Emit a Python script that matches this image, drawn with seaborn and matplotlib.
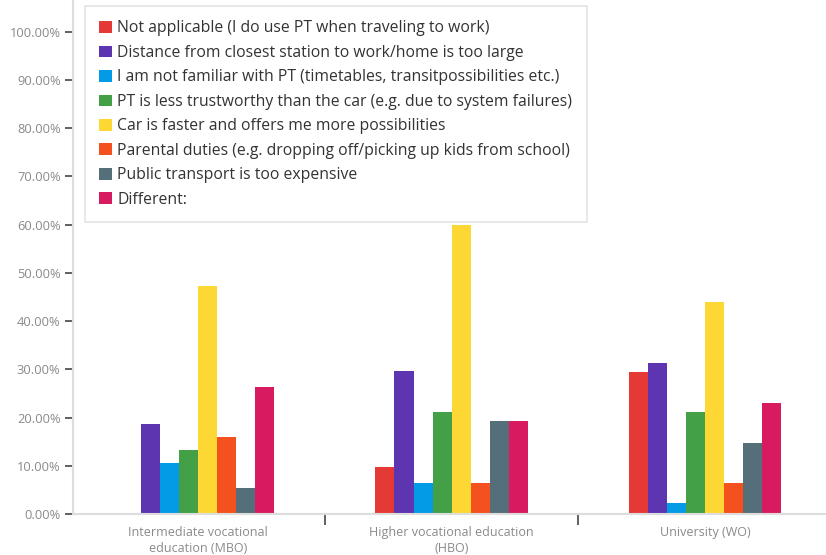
import matplotlib
matplotlib.use("Agg")
import matplotlib.pyplot as plt
import seaborn as sns
import pandas as pd
from matplotlib.ticker import FixedLocator, FuncFormatter

# Education levels (x categories)
levels = [
    "Intermediate vocational\neducation (MBO)",
    "Higher vocational education\n(HBO)",
    "University (WO)",
]

# Reasons for not using public transport (hue series)
reasons = [
    "Not applicable (I do use PT when traveling to work)",
    "Distance from closest station to work/home is too large",
    "I am not familiar with PT (timetables, transitpossibilities etc.)",
    "PT is less trustworthy than the car (e.g. due to system failures)",
    "Car is faster and offers me more possibilities",
    "Parental duties (e.g. dropping off/picking up kids from school)",
    "Public transport is too expensive",
    "Different:",
]

# Share of respondents (%) per reason, one list per education level
mbo = [0.0, 18.67, 10.67, 13.33, 47.3, 16.0, 5.33, 26.4]
hbo = [9.7, 29.6, 6.45, 21.1, 60.0, 6.45, 19.3, 19.3]
wo = [29.4, 31.4, 2.2, 21.1, 44.0, 6.4, 14.7, 23.0]

colors = ["#E53935", "#5E35B1", "#039BE5", "#43A047",
          "#FDD835", "#F4511E", "#546E7A", "#D81B60"]

rows = []
for level, vals in zip(levels, [mbo, hbo, wo]):
    for reason, v in zip(reasons, vals):
        rows.append({"level": level, "reason": reason, "share": v})
df = pd.DataFrame(rows)

sns.set_theme(style="white")
plt.rcParams["font.family"] = ["Open Sans", "DejaVu Sans"]

fig = plt.figure(figsize=(8.26, 5.55), dpi=100)
ax = fig.add_axes([0.0884, 0.0739, 0.9116, 0.9261])

sns.barplot(data=df, x="level", y="share", hue="reason",
            order=levels, hue_order=reasons, palette=colors,
            width=0.6, dodge=True, linewidth=0, saturation=1, ax=ax,
            errorbar=None)

ax.set_xlim(-0.493, 2.477)
ax.set_ylim(0, 106.6)
ax.set_xlabel("")
ax.set_ylabel("")

# y axis: percentage ticks every 10%
ax.yaxis.set_major_locator(FixedLocator([i * 10 for i in range(11)]))
ax.yaxis.set_major_formatter(FuncFormatter(lambda v, _: f"{v:.2f}%"))
ax.tick_params(axis="y", which="major", length=6, width=1.2, color="#444444",
               labelsize=9.3, labelcolor="#8a8a8a", pad=3, left=True)

# x axis: category labels without ticks, separators between groups
ax.set_xticks([0, 1, 2])
ax.set_xticklabels(levels)
ax.tick_params(axis="x", which="major", length=0, labelsize=9,
               labelcolor="#8a8a8a", pad=9)
ax.set_xticks([0.5, 1.5], minor=True)
ax.tick_params(axis="x", which="minor", length=8, width=1.2,
               color="#444444", bottom=True)

for lbl in ax.get_xticklabels():
    lbl.set_linespacing(1.3)

for side in ["top", "right"]:
    ax.spines[side].set_visible(False)
for side in ["left", "bottom"]:
    ax.spines[side].set_color("#dddddd")
    ax.spines[side].set_linewidth(1.5)

handles, labels = ax.get_legend_handles_labels()
ax.get_legend().remove()
leg = fig.legend(handles, labels, loc="upper left",
                 bbox_to_anchor=(85 / 826, 1 - 6 / 555),
                 frameon=True, fontsize=11.3, handlelength=0.78,
                 handleheight=0.78, handletextpad=0.35, labelspacing=0.54,
                 borderpad=0.92, borderaxespad=0, fancybox=False,
                 labelcolor="#333333")
leg.get_frame().set_edgecolor("#dddddd")
leg.get_frame().set_linewidth(1.2)

fig.savefig("out.png", dpi=100)
